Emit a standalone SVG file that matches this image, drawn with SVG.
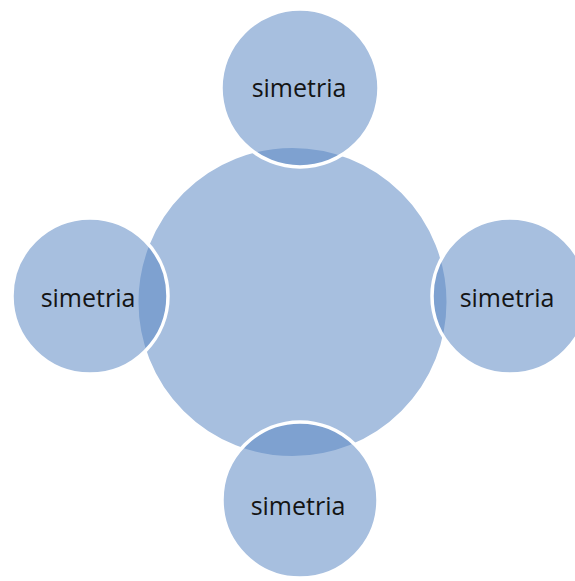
<svg xmlns="http://www.w3.org/2000/svg" width="575" height="581" viewBox="0 0 575 581">
  <style>
    .c { fill: rgb(90,135,195); fill-opacity: 0.534; stroke: #ffffff; stroke-width: 3.5; }
    .big { stroke-width: 2; }
    .t { font-family: "Open Sans", "Liberation Sans", sans-serif; font-size: 25px; fill: #141414; text-anchor: middle; }
  </style>
  <rect width="575" height="581" fill="#ffffff"/>
  <g id="connectors"></g>
  <g id="center">
    <circle class="c big" cx="292.5" cy="302" r="155"/>
  </g>
  <g id="top">
    <circle class="c" cx="300" cy="88" r="79"/>
    <text class="t" x="299" y="97">simetria</text>
  </g>
  <g id="left">
    <circle class="c" cx="90" cy="296" r="78"/>
    <text class="t" x="88" y="307">simetria</text>
  </g>
  <g id="right">
    <circle class="c" cx="510" cy="296" r="78"/>
    <text class="t" x="507" y="307">simetria</text>
  </g>
  <g id="bottom">
    <circle class="c" cx="300" cy="500" r="78"/>
    <text class="t" x="298" y="515">simetria</text>
  </g>
</svg>
